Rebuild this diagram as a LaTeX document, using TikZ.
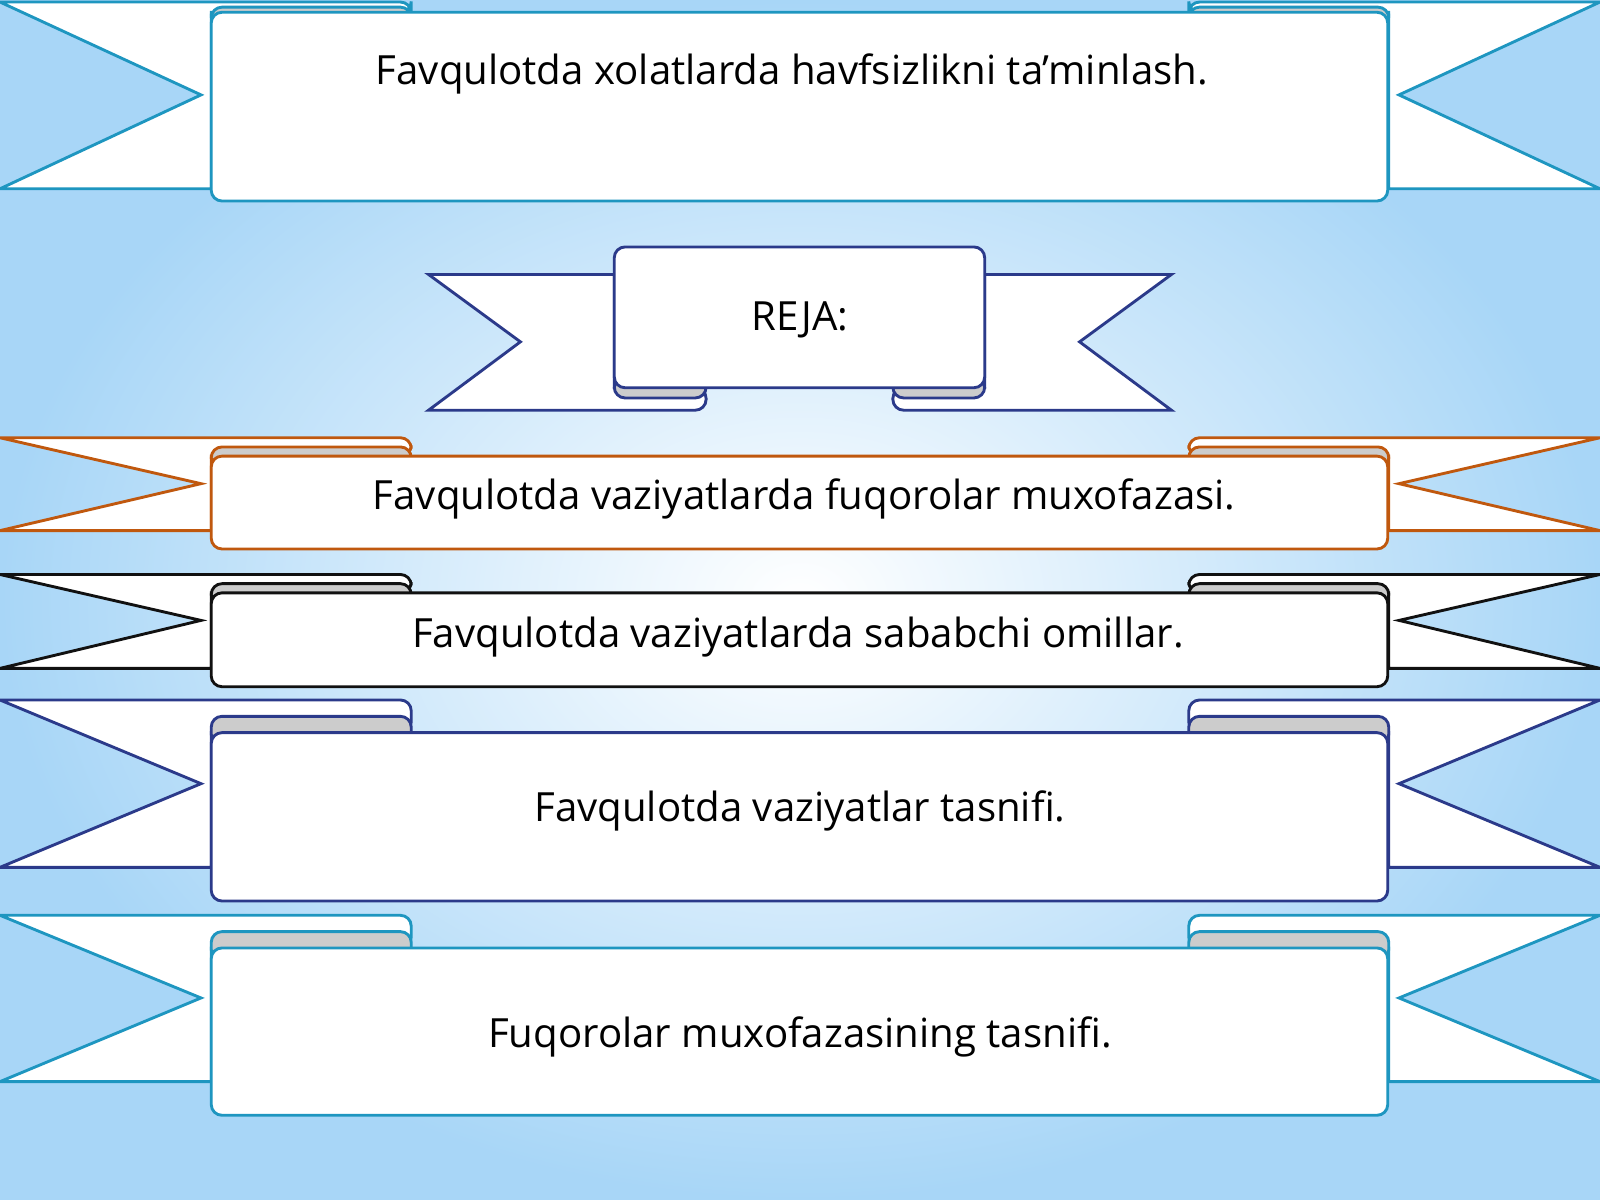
\documentclass[tikz,border=0pt]{standalone}
\usepackage{fontspec}
\setmainfont{Open Sans}
\definecolor{cteal}{HTML}{1E96C0}
\definecolor{corange}{HTML}{C0580E}
\definecolor{cnavy}{HTML}{2B3A8A}
\definecolor{cblk}{HTML}{111111}
\definecolor{cgray}{HTML}{CCCCCC}
\definecolor{bgblue}{HTML}{A8D6F7}
\newcommand{\tailhalf}[6]{%
  \draw[#1,fill=white] (207,#5) -- (0,#5) -- (197,#6) -- (0,#2) [rounded corners=3pt]-- (403,#2) -- (403,#3) [sharp corners]-- (207,#3) -- cycle;
  \draw[#1,fill=cgray,rounded corners=3pt] (207,{(#2+#3)/2}) rectangle (403,{#3+12});
}
\tikzset{txt/.style={font=\fontsize{11.2}{13}\selectfont,text=black,inner sep=0pt}}
\begin{document}
\begin{tikzpicture}[x=0.01cm,y=-0.01cm,line width=0.8pt]
\useasboundingbox (0,0) rectangle (1568,1176);
\shade[inner color=white,outer color=bgblue] (0,0) rectangle (1568,1176);
% top ribbon
\tailhalf{cteal}{2}{12}{197}{185}{93}
\begin{scope}[shift={(1568,0)},xscale=-1]\tailhalf{cteal}{2}{12}{197}{185}{93}\end{scope}
\draw[cteal,fill=white,rounded corners=3pt] (207,12) rectangle (1360,197);
\node[txt] (t1) at (776,72) {Favqulotda xolatlarda havfsizlikni ta’minlash.};
% REJA ribbon
\draw[cnavy,fill=white] (602,269) -- (420,269) -- (510,335) -- (420,402) [rounded corners=3pt]-- (692,402) -- (692,380) [sharp corners]-- (602,380) -- cycle;
\draw[cnavy,fill=white] (965,269) -- (1148,269) -- (1058,335) -- (1148,402) [rounded corners=3pt]-- (875,402) -- (875,380) [sharp corners]-- (965,380) -- cycle;
\draw[cnavy,fill=cgray,rounded corners=3pt] (602,370) rectangle (692,390);
\draw[cnavy,fill=cgray,rounded corners=3pt] (875,370) rectangle (965,390);
\draw[cnavy,fill=white,rounded corners=3pt] (602,242) rectangle (965,380);
\node[txt] (t2) at (784,313) {REJA:};
% orange
\tailhalf{corange}{429}{447}{538}{520}{474}
\begin{scope}[shift={(1568,0)},xscale=-1]\tailhalf{corange}{429}{447}{538}{520}{474}\end{scope}
\draw[corange,fill=white,rounded corners=3pt] (207,447) rectangle (1360,538);
\node[txt] (t3) at (788,489) {Favqulotda vaziyatlarda fuqorolar muxofazasi.};
% black
\tailhalf{cblk}{563}{581}{673}{655}{608}
\begin{scope}[shift={(1568,0)},xscale=-1]\tailhalf{cblk}{563}{581}{673}{655}{608}\end{scope}
\draw[cblk,fill=white,rounded corners=3pt] (207,581) rectangle (1360,673);
\node[txt] (t4) at (782,624) {Favqulotda vaziyatlarda sababchi omillar.};
% navy
\tailhalf{cnavy}{686}{718}{883}{850}{768}
\begin{scope}[shift={(1568,0)},xscale=-1]\tailhalf{cnavy}{686}{718}{883}{850}{768}\end{scope}
\draw[cnavy,fill=white,rounded corners=3pt] (207,718) rectangle (1360,883);
\node[txt] (t5) at (784,795) {Favqulotda vaziyatlar tasnifi.};
% teal bottom
\tailhalf{cteal}{897}{929}{1093}{1060}{978}
\begin{scope}[shift={(1568,0)},xscale=-1]\tailhalf{cteal}{897}{929}{1093}{1060}{978}\end{scope}
\draw[cteal,fill=white,rounded corners=3pt] (207,929) rectangle (1360,1093);
\node[txt] (t6) at (784,1016) {Fuqorolar muxofazasining tasnifi.};
\end{tikzpicture}
\end{document}
